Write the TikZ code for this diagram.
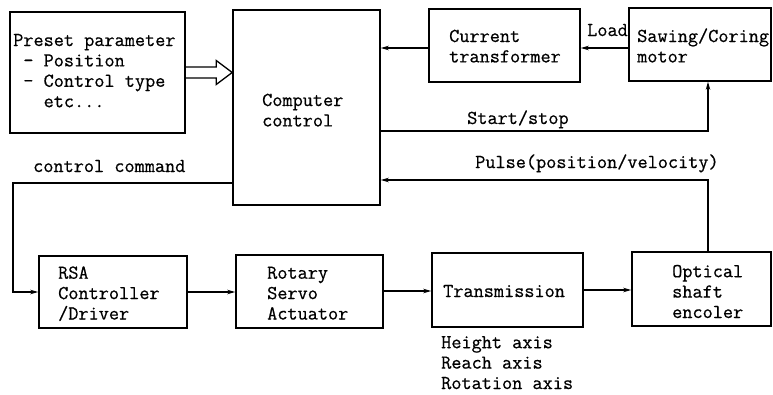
\documentclass[tikz,border=0pt]{standalone}
\usepackage{fontspec}
\newfontfamily\typew[FakeBold=0.6]{Latin Modern Mono}
\usetikzlibrary{arrows.meta,calc}
\begin{document}
\begin{tikzpicture}[x=1pt,y=-1pt,
  box/.style={draw, line width=1.6pt, rectangle, inner sep=0pt},
  txt/.style={font=\typew\fontsize{19.7}{20.4}\selectfont, inner sep=0pt, align=left, anchor=base west},
  conn/.style={line width=1.2pt},
  arr/.style={conn, -{Stealth[length=8pt,width=4.5pt]}}]
\useasboundingbox (0,0) rectangle (773,394);
\fill[white] (0,0) rectangle (773,394);
% boxes
\node[box, minimum width=175pt, minimum height=121pt] (pre) at (97.5,72.5) {};
\node[box, minimum width=147pt, minimum height=195pt] (cc) at (306.5,107.5) {};
\node[box, minimum width=151pt, minimum height=73pt] (ct) at (504.5,45.5) {};
\node[box, minimum width=142pt, minimum height=73pt] (mot) at (700,44.5) {};
\node[box, minimum width=148pt, minimum height=72pt] (rsa) at (113,292) {};
\node[box, minimum width=147pt, minimum height=73pt] (act) at (309.5,291.5) {};
\node[box, minimum width=151pt, minimum height=74pt] (tr) at (507.5,290) {};
\node[box, minimum width=139pt, minimum height=74pt] (enc) at (701.5,289) {};
% texts in boxes (base anchor = baseline of last line)
\node[txt] (pret) at (13,107.2) {Preset parameter\\~-~Position\\~-~Control type\\~~~etc...};
\node[txt] (cct) at (262,126.4) {Computer\\control};
\node[txt] (ctt) at (449,62.4) {Current\\transformer};
\node[txt] (mott) at (637,62.4) {Sawing/Coring\\motor};
\node[txt] (rsat) at (58,319.5) {RSA\\Controller\\/Driver};
\node[txt] (actt) at (267,319.5) {Rotary\\Servo\\Actuator};
\node[txt] (trt) at (443,297) {Transmission};
\node[txt] (enct) at (672,318) {Optical\\shaft\\encoler};
% labels
\node[txt] (load) at (587,36) {Load};
\node[txt] (sslab) at (467,124) {Start/stop};
\node[txt] (pulab) at (475,168) {Pulse(position/velocity)};
\node[txt] (cmlab) at (33,172) {control command};
\node[txt] (axes) at (441,389) {Height axis\\Reach axis\\Rotation axis};
% hollow double arrow
\coordinate (tip) at (cc.west |- pre.east);
\draw[line width=1.3pt, line join=miter]
  ($(pre.east)+(0,-5.5)$) -- ($(tip)+(-16,-5.5)$) -- ($(tip)+(-16,-12)$) -- (tip)
  -- ($(tip)+(-16,12)$) -- ($(tip)+(-16,5.5)$) -- ($(pre.east)+(0,5.5)$);
% connectors
\draw[arr] ([yshift=-3.5pt]mot.west) -- ([yshift=-3.5pt]mot.west -| ct.east);
\draw[arr] ([yshift=-2.5pt]ct.west) -- ([yshift=-2.5pt]ct.west -| cc.east);
\coordinate (ss) at (708,131);
\draw[arr] (cc.east |- ss) -- (ss) -- (ss |- mot.south);
\coordinate (pu) at (708,180);
\draw[arr] (enc.north -| pu) -- (pu) -- (pu -| cc.east);
\coordinate (cm) at (13,183);
\draw[arr] (cc.west |- cm) -- (cm) -- (cm |- rsa.west) -- (rsa.west);
\draw[arr] (rsa.east) -- (rsa.east -| act.west);
\draw[arr] ([yshift=0.5pt]act.east) -- ([yshift=0.5pt]act.east -| tr.west);
\draw[arr] (tr.east) -- (tr.east -| enc.west);
\end{tikzpicture}
\end{document}
